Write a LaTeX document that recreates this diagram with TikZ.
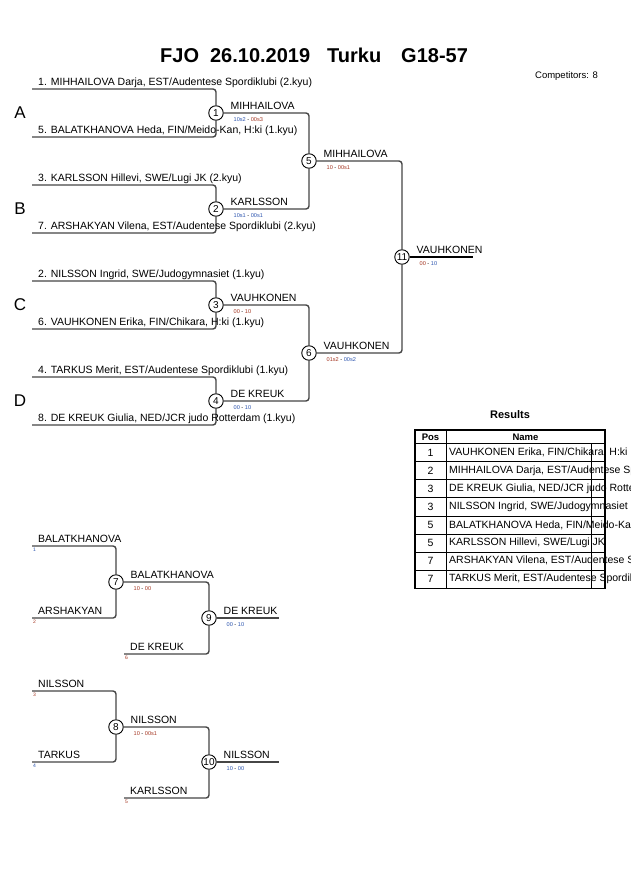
\documentclass[tikz,border=0pt]{standalone}
\usepackage{fontspec}
\setmainfont{Liberation Sans}
\usetikzlibrary{positioning}
\definecolor{wincol}{RGB}{45,85,175}
\definecolor{losecol}{RGB}{165,55,35}
\definecolor{linecol}{RGB}{70,70,70}
\newcommand{\pts}[4]{\textcolor{#1}{#2} - \textcolor{#3}{#4}}

\begin{document}
\begin{tikzpicture}[x=1pt,y=-1pt,
  bline/.style={draw=linecol, line width=1.4pt, rounded corners=3pt},
  match/.style={circle, draw=black, line width=0.9pt, fill=white, inner sep=0pt, minimum size=14.5pt, font=\fontsize{10}{10}\selectfont},
  entrant/.style={anchor=base west, inner sep=0pt, font=\fontsize{10.5}{12}\selectfont},
  score/.style={anchor=base west, inner sep=0pt, font=\fontsize{5.6}{6}\selectfont},
  pool/.style={anchor=center, inner sep=0pt, font=\fontsize{17}{17}\selectfont},
  seedno/.style={anchor=base west, inner sep=0pt, font=\fontsize{5}{5}\selectfont},
  cell/.style={anchor=west, inner sep=0pt, font=\fontsize{10.5}{12}\selectfont},
  poscell/.style={anchor=center, inner sep=0pt, font=\fontsize{10.5}{12}\selectfont}]

\useasboundingbox (0,0) rectangle (630,891);
\fill[white] (0,0) rectangle (630,891);
\clip (0,0) rectangle (630,891);

% title
\node[anchor=base west, inner sep=0pt, font=\bfseries\fontsize{20}{20}\selectfont] (title) at (160,63) {FJO\hspace{11pt}26.10.2019\hspace{17pt}Turku\hspace{20pt}G18-57};
\node[anchor=base east, inner sep=0pt, font=\fontsize{9.5}{10}\selectfont] (ncomp) at (598,78.5) {Competitors: 8};

% pools
\node[pool] (pA) at (20,113) {A};
\node[pool] (pB) at (20,209) {B};
\node[pool] (pC) at (20,305) {C};
\node[pool] (pD) at (20,401) {D};

% main bracket
\coordinate (s1) at (32,89);
\coordinate (s5) at (32,137);
\coordinate (s3) at (32,185);
\coordinate (s7) at (32,233);
\coordinate (s2) at (32,281);
\coordinate (s6) at (32,329);
\coordinate (s4) at (32,377);
\coordinate (s8) at (32,425);
\coordinate (fin) at (473,257);

\node[match] (m1) at (216,113) {1};
\node[match] (m2) at (216,209) {2};
\node[match] (m3) at (216,305) {3};
\node[match] (m4) at (216,401) {4};
\node[match] (m5) at (309,161) {5};
\node[match] (m6) at (309,353) {6};
\node[match] (m11) at (402,257) {11};

\draw[bline] (s1) -| (m1);
\draw[bline] (s5) -| (m1);
\draw[bline] (s3) -| (m2);
\draw[bline] (s7) -| (m2);
\draw[bline] (s2) -| (m3);
\draw[bline] (s6) -| (m3);
\draw[bline] (s4) -| (m4);
\draw[bline] (s8) -| (m4);
\draw[bline] (m1) -| (m5);
\draw[bline] (m2) -| (m5);
\draw[bline] (m3) -| (m6);
\draw[bline] (m4) -| (m6);
\draw[bline] (m5) -| (m11);
\draw[bline] (m6) -| (m11);
\draw[line width=1.1pt] (m11) -- (fin); % final

\node[entrant] (e1) at (38,85) {1. MIHHAILOVA Darja, EST/Audentese Spordiklubi (2.kyu)};
\node[entrant] (e5) at (38,133) {5. BALATKHANOVA Heda, FIN/Meido-Kan, H:ki (1.kyu)};
\node[entrant] (e3) at (38,181) {3. KARLSSON Hillevi, SWE/Lugi JK (2.kyu)};
\node[entrant] (e7) at (38,229) {7. ARSHAKYAN Vilena, EST/Audentese Spordiklubi (2.kyu)};
\node[entrant] (e2) at (38,277) {2. NILSSON Ingrid, SWE/Judogymnasiet (1.kyu)};
\node[entrant] (e6) at (38,325) {6. VAUHKONEN Erika, FIN/Chikara, H:ki (1.kyu)};
\node[entrant] (e4) at (38,373) {4. TARKUS Merit, EST/Audentese Spordiklubi (1.kyu)};
\node[entrant] (e8) at (38,421) {8. DE KREUK Giulia, NED/JCR judo Rotterdam (1.kyu)};

% winners and scores
\node[entrant] (w1) at (230.5,109) {MIHHAILOVA};
\node[score] (r1) at (233.5,121.3) {\pts{wincol}{10s2}{losecol}{00s3}};
\node[entrant] (w2) at (230.5,205) {KARLSSON};
\node[score] (r2) at (233.5,217.3) {\pts{wincol}{10s1}{wincol}{00s1}};
\node[entrant] (w3) at (230.5,301) {VAUHKONEN};
\node[score] (r3) at (233.5,313.3) {\pts{losecol}{00}{losecol}{10}};
\node[entrant] (w4) at (230.5,397) {DE KREUK};
\node[score] (r4) at (233.5,409.3) {\pts{wincol}{00}{wincol}{10}};
\node[entrant] (w5) at (323.5,157) {MIHHAILOVA};
\node[score] (r5) at (326.5,169.3) {\pts{losecol}{10}{losecol}{00s1}};
\node[entrant] (w6) at (323.5,349) {VAUHKONEN};
\node[score] (r6) at (326.5,361.3) {\pts{losecol}{01s2}{wincol}{00s2}};
\node[entrant] (w11) at (416.5,253) {VAUHKONEN};
\node[score] (r11) at (419.5,265.3) {\pts{losecol}{00}{wincol}{10}};

% repechage
\coordinate (q1) at (32,546);
\coordinate (q2) at (32,618);
\coordinate (q6) at (124,654);
\coordinate (q7) at (279,618);
\coordinate (q3) at (32,691);
\coordinate (q4) at (32,762);
\coordinate (q5) at (124,798);
\coordinate (q8) at (279,762);

\node[match] (m7) at (116,582) {7};
\node[match] (m9) at (209,618) {9};
\node[match] (m8) at (116,727) {8};
\node[match] (m10) at (209,762) {10};

\draw[bline] (q1) -| (m7);
\draw[bline] (q2) -| (m7);
\draw[bline] (m7) -| (m9);
\draw[bline] (q6) -| (m9);
\draw[bline] (m9) -- (q7);
\draw[bline] (q3) -| (m8);
\draw[bline] (q4) -| (m8);
\draw[bline] (m8) -| (m10);
\draw[bline] (q5) -| (m10);
\draw[bline] (m10) -- (q8);

\node[entrant] (b1) at (38,542) {BALATKHANOVA};
\node[seedno, text=wincol] (n1) at (33,551.5) {1};
\node[entrant] (b2) at (38,614) {ARSHAKYAN};
\node[seedno, text=losecol] (n2) at (33,623.5) {2};
\node[entrant] (w7) at (130.5,578) {BALATKHANOVA};
\node[score] (r7) at (133.5,590.3) {\pts{losecol}{10}{losecol}{00}};
\node[entrant] (b6) at (130,650) {DE KREUK};
\node[seedno, text=losecol] (n6) at (125,659.5) {6};
\node[entrant] (w9) at (223.5,614) {DE KREUK};
\node[score] (r9) at (226.5,626.3) {\pts{wincol}{00}{wincol}{10}};

\node[entrant] (b3) at (38,687) {NILSSON};
\node[seedno, text=losecol] (n3) at (33,696.5) {3};
\node[entrant] (b4) at (38,758) {TARKUS};
\node[seedno, text=wincol] (n4) at (33,767.5) {4};
\node[entrant] (w8) at (130.5,723) {NILSSON};
\node[score] (r8) at (133.5,735.3) {\pts{losecol}{10}{losecol}{00s1}};
\node[entrant] (b5) at (130,794) {KARLSSON};
\node[seedno, text=losecol] (n5) at (125,803.5) {5};
\node[entrant] (w10) at (223.5,758) {NILSSON};
\node[score] (r10) at (226.5,770.3) {\pts{wincol}{10}{wincol}{00}};

% results table
\node[inner sep=0pt, font=\bfseries\fontsize{11}{12}\selectfont] (restitle) at (510,415) {Results};
\node[inner sep=0pt, font=\bfseries\fontsize{9.5}{10}\selectfont] (hpos) at (430.5,437) {Pos};
\node[inner sep=0pt, font=\bfseries\fontsize{9.5}{10}\selectfont] (hname) at (525.5,437) {Name};

\node[poscell] (p1) at (430.5,452.5) {1};
\node[cell] (c1) at (449,452.5) {VAUHKONEN Erika, FIN/Chikara, H:ki};
\node[poscell] (p2) at (430.5,470.6) {2};
\node[cell] (c2) at (449,470.6) {MIHHAILOVA Darja, EST/Audentese Spordiklubi};
\node[poscell] (p3) at (430.5,488.7) {3};
\node[cell] (c3) at (449,488.7) {DE KREUK Giulia, NED/JCR judo Rotterdam};
\node[poscell] (p4) at (430.5,506.8) {3};
\node[cell] (c4) at (449,506.8) {NILSSON Ingrid, SWE/Judogymnasiet};
\node[poscell] (p5) at (430.5,524.9) {5};
\node[cell] (c5) at (449,524.9) {BALATKHANOVA Heda, FIN/Meido-Kan, H:ki};
\node[poscell] (p6) at (430.5,543) {5};
\node[cell] (c6) at (449,543) {KARLSSON Hillevi, SWE/Lugi JK};
\node[poscell] (p7) at (430.5,561.1) {7};
\node[cell] (c7) at (449,561.1) {ARSHAKYAN Vilena, EST/Audentese Spordiklubi};
\node[poscell] (p8) at (430.5,579.2) {7};
\node[cell] (c8) at (449,579.2) {TARKUS Merit, EST/Audentese Spordiklubi};

\draw[line width=0.8pt] (415,443.5) -- (605,443.5) (415,461.6) -- (605,461.6)
  (415,479.7) -- (605,479.7) (415,497.8) -- (605,497.8) (415,515.9) -- (605,515.9)
  (415,534) -- (605,534) (415,552.1) -- (605,552.1) (415,570.2) -- (605,570.2);
\draw[line width=0.8pt] (446,430) -- (446,588.5);
\draw[line width=0.8pt] (591,443.5) -- (591,588.5);
\draw[line width=1.8pt] (415,430) rectangle (605,588.5);

\end{tikzpicture}
\end{document}
